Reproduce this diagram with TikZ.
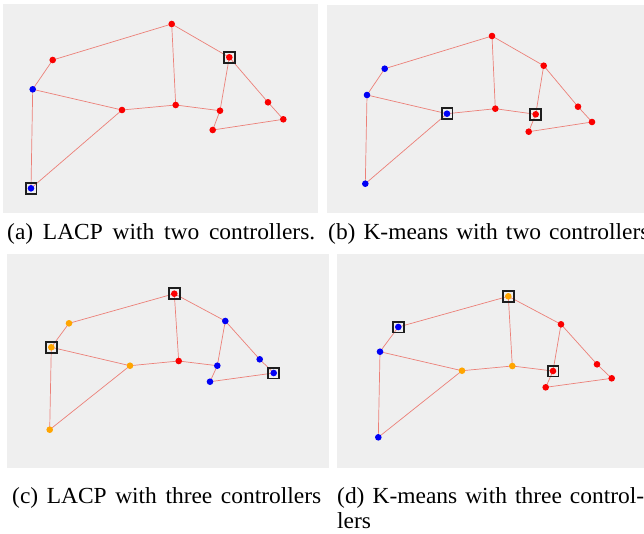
\documentclass[tikz,border=0pt]{standalone}
\usepackage{fontspec}
\usepackage{graphicx}
\setmainfont{Liberation Serif}
\pgfdeclarelayer{panelbg}
\pgfdeclarelayer{edgelayer}
\pgfsetlayers{panelbg,edgelayer,main}
\definecolor{bgc}{RGB}{239,239,239}
\definecolor{linkc}{RGB}{236,128,120}
\definecolor{nred}{RGB}{250,0,0}
\definecolor{nblue}{RGB}{0,0,245}
\definecolor{norange}{RGB}{255,165,0}
\definecolor{boxc}{RGB}{30,30,30}
\tikzset{
  panel/.style={fill=bgc, draw=none},
  link/.style={draw=linkc, line width=0.7pt},
  dotnode/.style={circle, fill=#1, inner sep=0pt, minimum size=6.6pt},
  ctrl/.style={rectangle, draw=boxc, line width=1.8pt, inner sep=0pt, minimum size=10.8pt,
    path picture={\fill[#1] (path picture bounding box.center) circle (3.3pt);}},
  captext/.style={anchor=base west, inner sep=0pt, font=\fontsize{23}{27}\selectfont}
}
\newcommand{\capline}[2]{\scalebox{1.02}[1]{\hbox to #1{#2}}}
\begin{document}
\begin{tikzpicture}[x=1pt,y=-1pt]
\useasboundingbox (0,0) rectangle (644,533);
\clip (0,0) rectangle (644,533);
% panels
\begin{pgfonlayer}{panelbg}
\fill[white] (0,0) rectangle (644,533);
\path[panel] (3,4) rectangle (318,213);
\path[panel] (327,5) rectangle (650,213);
\path[panel] (7,254) rectangle (329,468);
\path[panel] (337,254) rectangle (650,468);
\end{pgfonlayer}
% panel (a)
\node[dotnode=nred] (a-T) at (171.7,24) {};
\node[ctrl=nred] (a-R) at (229.3,57.3) {};
\node[dotnode=nred] (a-LT) at (52.7,60) {};
\node[dotnode=nblue] (a-L) at (32.7,89.3) {};
\node[dotnode=nred] (a-C) at (122,110) {};
\node[dotnode=nred] (a-M) at (175.7,105) {};
\node[dotnode=nred] (a-RM) at (220,110.7) {};
\node[dotnode=nred] (a-E1) at (268,102.3) {};
\node[dotnode=nred] (a-E2) at (283.3,119.3) {};
\node[dotnode=nred] (a-BR) at (212.7,130) {};
\node[ctrl=nblue] (a-B) at (31,188.3) {};
% panel (b)
\node[dotnode=nred] (b-T) at (492,36) {};
\node[dotnode=nred] (b-R) at (543.7,65.7) {};
\node[dotnode=nblue] (b-LT) at (384.7,68.7) {};
\node[dotnode=nblue] (b-L) at (367,95) {};
\node[ctrl=nblue] (b-C) at (447,113.7) {};
\node[dotnode=nred] (b-M) at (495.3,108.7) {};
\node[ctrl=nred] (b-RM) at (535.7,114.3) {};
\node[dotnode=nred] (b-E1) at (578,106.7) {};
\node[dotnode=nred] (b-E2) at (592,122) {};
\node[dotnode=nred] (b-BR) at (528.7,131.7) {};
\node[dotnode=nblue] (b-B) at (365.3,183.7) {};
% panel (c)
\node[ctrl=nred] (c-T) at (174.3,293.7) {};
\node[dotnode=nblue] (c-R) at (225.3,321) {};
\node[dotnode=norange] (c-LT) at (69,323.3) {};
\node[ctrl=norange] (c-L) at (51.3,347.3) {};
\node[dotnode=norange] (c-C) at (130,365.7) {};
\node[dotnode=nred] (c-M) at (178.7,361) {};
\node[dotnode=nblue] (c-RM) at (217.3,365.7) {};
\node[dotnode=nblue] (c-E1) at (259.7,359.3) {};
\node[ctrl=nblue] (c-E2) at (273.7,373) {};
\node[dotnode=nblue] (c-BR) at (210,381.7) {};
\node[dotnode=norange] (c-B) at (49.7,429.7) {};
% panel (d)
\node[ctrl=norange] (d-T) at (508.3,296.3) {};
\node[dotnode=nred] (d-R) at (561,324.3) {};
\node[ctrl=nblue] (d-LT) at (398.3,327) {};
\node[dotnode=nblue] (d-L) at (380,351.7) {};
\node[dotnode=norange] (d-C) at (462,370.7) {};
\node[dotnode=norange] (d-M) at (512.3,366) {};
\node[ctrl=nred] (d-RM) at (553,371) {};
\node[dotnode=nred] (d-E1) at (597,364.3) {};
\node[dotnode=nred] (d-E2) at (611.7,378.3) {};
\node[dotnode=nred] (d-BR) at (545.7,387.3) {};
\node[dotnode=nblue] (d-B) at (378.3,437.3) {};
% links
\begin{pgfonlayer}{edgelayer}
\foreach \p in {a,b,c,d}{
  \foreach \u/\v in {T/LT, T/R, T/M, LT/L, L/C, L/B, C/B, C/M, M/RM, R/RM, R/E1, E1/E2, E2/BR, BR/RM}{
    \draw[link] (\p-\u.center) -- (\p-\v.center);
  }
}
\end{pgfonlayer}
% captions
\node[captext] (cap-a) at (7,239) {\capline{302pt}{(a)\hfill LACP\hfill with\hfill two\hfill controllers.}};
\node[captext] (cap-b) at (328,239) {\capline{315pt}{(b)\hfill K-means\hfill with\hfill two\hfill controllers}};
\node[captext] (cap-c) at (12,503) {\capline{303pt}{(c)\hfill LACP\hfill with\hfill three\hfill controllers}};
\node[captext] (cap-d) at (337,503) {\capline{301pt}{(d)\hfill K-means\hfill with\hfill three\hfill control-}};
\node[captext] (cap-d2) at (337,528) {\scalebox{1.02}[1]{lers}};
\end{tikzpicture}
\end{document}
